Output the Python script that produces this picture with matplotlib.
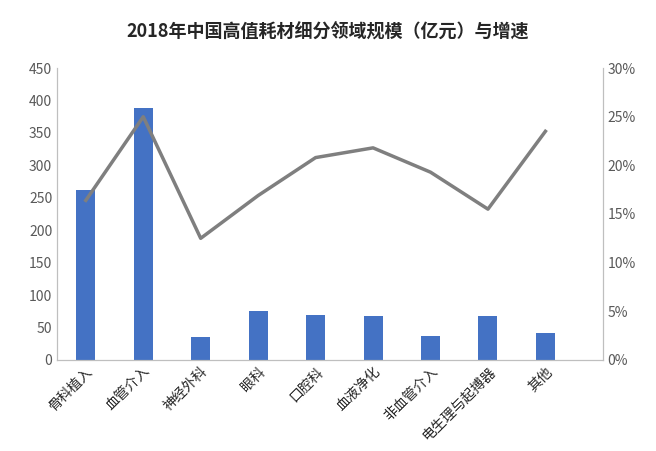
import matplotlib
matplotlib.use("Agg")
import matplotlib.pyplot as plt
from matplotlib.ticker import PercentFormatter

plt.rcParams['font.family'] = ['Noto Sans CJK SC', 'DejaVu Sans']

categories = ['骨科植入', '血管介入', '神经外科', '眼科', '口腔科', '血液净化', '非血管介入', '电生理与起搏器', '其他']
market_size = [262, 389, 36, 76, 70, 67, 37, 67, 42]
growth_pct = [16.4, 25.0, 12.5, 16.9, 20.8, 21.8, 19.3, 15.5, 23.5]

fig = plt.figure(figsize=(6.56, 4.51), dpi=100)
ax = fig.add_axes([0.087, 0.202, 0.832, 0.647])
x = range(len(categories))
ax.bar(x, market_size, width=0.33, color='#4472C4')
ax.set_ylim(0, 450)
ax.set_yticks(range(0, 451, 50))
ax.set_xlim(-0.5, 9.0)
ax.set_xticks(list(x))
ax.set_xticklabels(categories, rotation=45, ha='right', rotation_mode='anchor', fontsize=10)
ax2 = ax.twinx()
ax2.plot(list(x), growth_pct, color='#7F7F7F', linewidth=2.5)
ax2.set_ylim(0, 30)
ax2.set_yticks(range(0, 31, 5))
ax2.yaxis.set_major_formatter(PercentFormatter(decimals=0))
for a in (ax, ax2):
    for s in a.spines.values():
        s.set_color('#BFBFBF')
    a.spines['top'].set_visible(False)
    a.tick_params(colors='#595959', labelsize=10, length=0)
ax.tick_params(axis='x', colors='#262626')
fig.suptitle('2018年中国高值耗材细分领域规模（亿元）与增速', y=0.95, fontsize=13, fontweight='bold', color='#262626')
fig.savefig('out.png', dpi=100)
